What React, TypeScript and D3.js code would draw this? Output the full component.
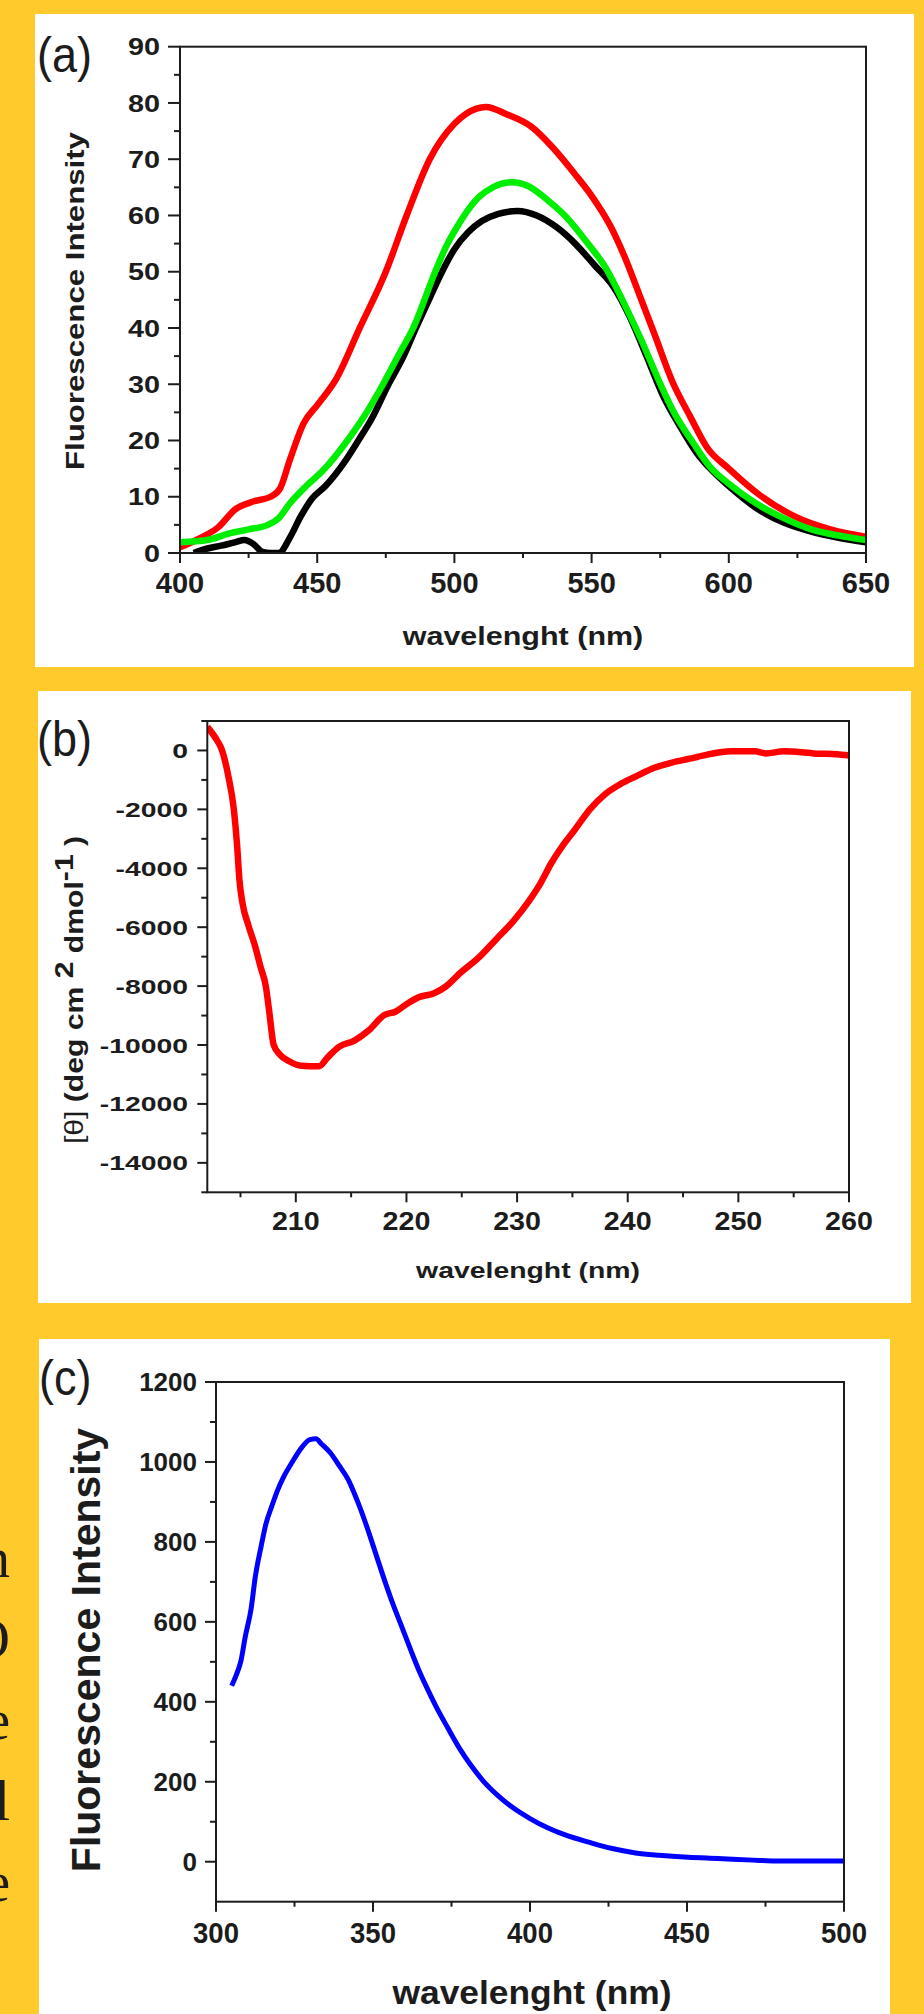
import React from "react";
import * as d3 from "d3";

const W = 924;
const H = 2014;
const SANS = "'Liberation Sans', Arial, Helvetica, sans-serif";
const SERIF = "'Liberation Serif', 'Times New Roman', serif";
const BG = "#FFCA2C";
const INK = "#1c1c1c";

// ---------- Panel (a): fluorescence, three samples ----------
const aXTicks = [400, 450, 500, 550, 600, 650];
const aXMinor = [425, 475, 525, 575, 625];
const aYTicks = [0, 10, 20, 30, 40, 50, 60, 70, 80, 90];
const aYMinor = [5, 15, 25, 35, 45, 55, 65, 75, 85];
const aRed: [number, number][] = [
  [400, 1.0], [407.5, 2.7], [414, 4.6], [420, 7.7], [427, 9.2], [433, 10], [436.5, 11.5],
  [440, 16.5], [445, 23], [450.4, 26.5], [457, 31], [465.5, 40], [475, 50], [482.6, 60],
  [491, 70], [500, 76.3], [508, 79], [511.5, 79.3], [519, 78], [528, 75.8], [536, 72],
  [544, 67.3], [550, 63.5], [557, 58], [562, 52.7], [567.5, 45.8], [573, 38.8],
  [579.5, 30.4], [586, 24.2], [592, 18.8], [600, 15], [611, 10.4], [624, 6.5],
  [637, 4.2], [650, 2.9],
];
const aGreen: [number, number][] = [
  [400, 1.9], [410, 2.3], [418, 3.5], [425, 4.2], [432, 5], [436, 6.2], [440, 8.8],
  [446, 11.9], [452, 14.6], [461, 20], [467, 24.2], [474, 30], [480, 35.5], [485, 40],
  [493, 50], [497, 54.5], [501, 58], [505, 61], [509, 63.3], [514, 65], [521, 65.9],
  [527, 65.2], [534, 62.7], [541, 59.6], [548, 55.4], [555, 50.8], [562, 44.2],
  [568, 38], [574, 31.2], [580, 25], [587, 19.6], [593, 15.4], [600, 12.3], [610, 8.8],
  [620, 6.2], [630, 4.2], [640, 3.1], [650, 2.3],
];
const aBlack: [number, number][] = [
  [405, 0], [410, 0.8], [415, 1.3], [420, 1.9], [423.5, 2.3], [427, 1.5], [430, 0.2],
  [433, 0], [436, 0], [440, 2.7], [444, 6.5], [448, 9.6], [453, 11.9], [460, 16.2],
  [465, 20], [470, 24], [476, 30], [481, 34.5], [486, 40], [491, 45.3], [495, 49.5],
  [500, 54], [505, 57], [510, 59], [516, 60.3], [523, 60.8], [530, 60], [537, 58],
  [544, 55], [551, 51.2], [558, 47.3], [564, 41.9], [570, 35], [576, 28], [582, 22.7],
  [588, 18], [594, 14.6], [600, 11.9], [610, 8], [620, 5.4], [630, 3.8], [640, 2.7],
  [650, 1.9],
];

// ---------- Panel (b): CD spectrum ----------
const bXTicks = [210, 220, 230, 240, 250, 260];
const bXMinor = [205, 215, 225, 235, 245, 255];
const bYTicks = [-14000, -12000, -10000, -8000, -6000, -4000, -2000, 0];
const bYMinor = [-15000, -13000, -11000, -9000, -7000, -5000, -3000, -1000, 1000];
const bRed: [number, number][] = [
  [202, 800], [202.9, 330], [203.3, 40], [203.9, -870], [204.4, -2000], [204.7, -3250],
  [204.9, -4380], [205.2, -5220], [205.7, -5920], [206.3, -6620], [206.8, -7330],
  [207.3, -8030], [207.6, -8870], [208, -10000], [208.6, -10340], [209.4, -10550],
  [210.5, -10700], [212.1, -10720], [212.9, -10410], [213.9, -10060], [215.3, -9850],
  [216.6, -9500], [218, -8980], [219, -8870], [220.1, -8590], [221.1, -8380],
  [222.5, -8240], [223.5, -8030], [224.9, -7540], [226.5, -7045], [228.1, -6415],
  [229.7, -5780], [231, -5150], [232.1, -4520], [233.1, -3820], [234.2, -3190],
  [235.2, -2700], [236.6, -1990], [237.9, -1500], [239.3, -1150], [240.8, -870],
  [242.4, -590], [244, -410], [245.6, -280], [247.2, -140], [249.3, -30], [251.5, -30],
  [252.5, -100], [254.1, -30], [255.7, -60], [256.8, -100], [258.9, -130], [260, -170],
];

// ---------- Panel (c): intrinsic fluorescence ----------
const cXTicks = [300, 350, 400, 450, 500];
const cXMinor = [325, 375, 425, 475];
const cYTicks = [0, 200, 400, 600, 800, 1000, 1200];
const cYMinor = [100, 300, 500, 700, 900, 1100];
const cBlue: [number, number][] = [
  [305, 440], [306.5, 468], [307.9, 501], [309.3, 562], [311.2, 634], [312.5, 712],
  [314.4, 790], [315.9, 845], [317.8, 890], [319.6, 929], [321.5, 962], [324.3, 1000],
  [327.1, 1034], [329.9, 1056], [331.8, 1058], [333.6, 1045], [336.4, 1023],
  [339.3, 990], [342.1, 956], [344.9, 905], [347.6, 848], [350.4, 782], [353.2, 715],
  [356, 652], [358.9, 593], [361.7, 536], [364.5, 481], [367.3, 433], [370.1, 388],
  [373.8, 335], [377.6, 283], [381.3, 240], [385, 203], [389.7, 166], [394.4, 136],
  [400, 108], [405.6, 85], [411.2, 67], [418.7, 49], [426.2, 33], [433.6, 22],
  [441.1, 16], [450.4, 11], [459.8, 8], [471, 4], [478.5, 2], [500, 2],
];

// Clipped words of the page behind panel (c)
const sideLetters = ["n", "O", "e", "l", "e"];

type TxtProps = {
  x: number;
  y: number;
  size: number;
  sx?: number;
  sy?: number;
  rotate?: number;
  anchor?: "start" | "middle" | "end";
  weight?: string;
  family?: string;
  children: React.ReactNode;
};

function Txt({ x, y, size, sx = 1, sy = 1, rotate = 0, anchor = "middle", weight = "bold", family = SANS, children }: TxtProps) {
  return (
    <text
      transform={`translate(${x},${y}) rotate(${rotate}) scale(${sx},${sy})`}
      fontSize={size}
      fontFamily={family}
      fontWeight={weight}
      textAnchor={anchor}
      fill={INK}
    >
      {children}
    </text>
  );
}

type Series = { data: [number, number][]; color: string; width: number };

type PanelCfg = {
  id: string;
  xDomain: [number, number];
  yDomain: [number, number];
  left: number;
  right: number;
  top: number;
  bottom: number;
  xTicks: number[];
  xMinor: number[];
  yTicks: number[];
  yMinor: number[];
  xMajLen: number;
  xMinLen: number;
  yMajLen: number;
  yMinLen: number;
  xLab: { size: number; sx: number; baseline: number };
  yLab: { size: number; sx: number; right: number };
  series: Series[];
};

function Panel({ cfg }: { cfg: PanelCfg }) {
  const x = d3.scaleLinear().domain(cfg.xDomain).range([cfg.left, cfg.right]);
  const y = d3.scaleLinear().domain(cfg.yDomain).range([cfg.bottom, cfg.top]);
  const line = d3
    .line<[number, number]>()
    .x((d) => x(d[0]))
    .y((d) => y(d[1]))
    .curve(d3.curveMonotoneX);
  const capH = cfg.yLab.size * 0.716;
  return (
    <g>
      <defs>
        <clipPath id={`clip-${cfg.id}`}>
          <rect x={cfg.left} y={cfg.top} width={cfg.right - cfg.left} height={cfg.bottom - cfg.top} />
        </clipPath>
      </defs>
      <g clipPath={`url(#clip-${cfg.id})`}>
        {cfg.series.map((s, i) => (
          <path key={i} d={line(s.data) || ""} fill="none" stroke={s.color} strokeWidth={s.width} strokeLinejoin="round" strokeLinecap="butt" />
        ))}
      </g>
      <rect
        x={cfg.left}
        y={cfg.top}
        width={cfg.right - cfg.left}
        height={cfg.bottom - cfg.top}
        fill="none"
        stroke={INK}
        strokeWidth={2}
      />
      {cfg.xTicks.map((t) => (
        <line key={`xt${t}`} x1={x(t)} x2={x(t)} y1={cfg.bottom} y2={cfg.bottom + cfg.xMajLen} stroke={INK} strokeWidth={2} />
      ))}
      {cfg.xMinor.map((t) => (
        <line key={`xm${t}`} x1={x(t)} x2={x(t)} y1={cfg.bottom} y2={cfg.bottom + cfg.xMinLen} stroke={INK} strokeWidth={2} />
      ))}
      {cfg.yTicks.map((t) => (
        <line key={`yt${t}`} x1={cfg.left - cfg.yMajLen} x2={cfg.left} y1={y(t)} y2={y(t)} stroke={INK} strokeWidth={2} />
      ))}
      {cfg.yMinor.map((t) => (
        <line key={`ym${t}`} x1={cfg.left - cfg.yMinLen} x2={cfg.left} y1={y(t)} y2={y(t)} stroke={INK} strokeWidth={2} />
      ))}
      {cfg.xTicks.map((t) => (
        <Txt key={`xl${t}`} x={x(t)} y={cfg.xLab.baseline} size={cfg.xLab.size} sx={cfg.xLab.sx}>
          {String(t)}
        </Txt>
      ))}
      {cfg.yTicks.map((t) => (
        <Txt key={`yl${t}`} x={cfg.yLab.right} y={y(t) + capH / 2} size={cfg.yLab.size} sx={cfg.yLab.sx} anchor="end">
          {String(t)}
        </Txt>
      ))}
    </g>
  );
}

const panelA: PanelCfg = {
  id: "a",
  xDomain: [400, 650],
  yDomain: [0, 90],
  left: 180,
  right: 866,
  top: 46.7,
  bottom: 553,
  xTicks: aXTicks,
  xMinor: aXMinor,
  yTicks: aYTicks,
  yMinor: aYMinor,
  xMajLen: 10,
  xMinLen: 5,
  yMajLen: 12,
  yMinLen: 6,
  xLab: { size: 29, sx: 1, baseline: 593 },
  yLab: { size: 24, sx: 1.2, right: 160 },
  series: [
    { data: aRed, color: "#ff0000", width: 6.5 },
    { data: aBlack, color: "#000000", width: 6.5 },
    { data: aGreen, color: "#00ee00", width: 6.5 },
  ],
};

const panelB: PanelCfg = {
  id: "b",
  xDomain: [202, 260],
  yDomain: [-15000, 1000],
  left: 207.3,
  right: 849,
  top: 721,
  bottom: 1192.3,
  xTicks: bXTicks,
  xMinor: bXMinor,
  yTicks: bYTicks,
  yMinor: bYMinor,
  xMajLen: 10,
  xMinLen: 5,
  yMajLen: 10,
  yMinLen: 6,
  xLab: { size: 25.6, sx: 1.12, baseline: 1230 },
  yLab: { size: 21, sx: 1.35, right: 188 },
  series: [{ data: bRed, color: "#ff0000", width: 6.5 }],
};

const panelC: PanelCfg = {
  id: "c",
  xDomain: [300, 500],
  yDomain: [-100, 1200],
  left: 216,
  right: 844,
  top: 1382,
  bottom: 1901.7,
  xTicks: cXTicks,
  xMinor: cXMinor,
  yTicks: cYTicks,
  yMinor: cYMinor,
  xMajLen: 10,
  xMinLen: 5,
  yMajLen: 11,
  yMinLen: 6,
  xLab: { size: 29, sx: 0.95, baseline: 1943 },
  yLab: { size: 26, sx: 1, right: 197 },
  series: [{ data: cBlue, color: "#0000ff", width: 5 }],
};

export default function App() {
  return (
    <svg
      width={W}
      height={H}
      viewBox={`0 0 ${W} ${H}`}
      style={{ position: "absolute", left: 0, top: 0, display: "block" }}
    >
      <rect x={0} y={0} width={W} height={H} fill={BG} />

      {/* letters of the page text peeking out at the left edge */}
      {sideLetters.map((ch, i) => (
        <Txt key={i} x={10} y={1577 + i * 81} size={56} anchor="end" weight="normal" family={SERIF}>
          {ch}
        </Txt>
      ))}

      {/* white panels */}
      <rect x={35} y={14} width={879} height={653} fill="#ffffff" />
      <rect x={38} y={691} width={873} height={612} fill="#ffffff" />
      <rect x={39} y={1339} width={851} height={H - 1339} fill="#ffffff" />

      {/* Panel (a) */}
      <Panel cfg={panelA} />
      <Txt x={37} y={71.5} size={50} sx={0.9} anchor="start" weight="normal">(a)</Txt>
      <Txt x={523} y={645} size={25} sx={1.22}>wavelenght (nm)</Txt>
      <Txt x={84} y={301} size={26} sx={1.2} rotate={-90}>Fluorescence Intensity</Txt>

      {/* Panel (b) */}
      <Panel cfg={panelB} />
      <Txt x={37} y={755.5} size={50} sx={0.9} anchor="start" weight="normal">(b)</Txt>
      <Txt x={528} y={1278} size={22} sx={1.29}>wavelenght (nm)</Txt>
      <text
        transform={`translate(83,990) rotate(-90) scale(1.16,1)`}
        fontSize={26}
        fontFamily={SANS}
        fontWeight="bold"
        textAnchor="middle"
        fill={INK}
      >
        <tspan fontWeight="normal">[θ]</tspan>
        <tspan> (deg cm </tspan>
        <tspan dy={-10}>2</tspan>
        <tspan dy={10}> dmol</tspan>
        <tspan dy={-10}>-1</tspan>
        <tspan dy={10}> )</tspan>
      </text>

      {/* Panel (c) */}
      <Panel cfg={panelC} />
      <Txt x={39} y={1394.5} size={50} sx={0.9} anchor="start" weight="normal">(c)</Txt>
      <Txt x={532} y={2004} size={34} sx={1.04}>wavelenght (nm)</Txt>
      <Txt x={100} y={1650} size={41} sx={1} rotate={-90}>Fluorescence Intensity</Txt>
    </svg>
  );
}
